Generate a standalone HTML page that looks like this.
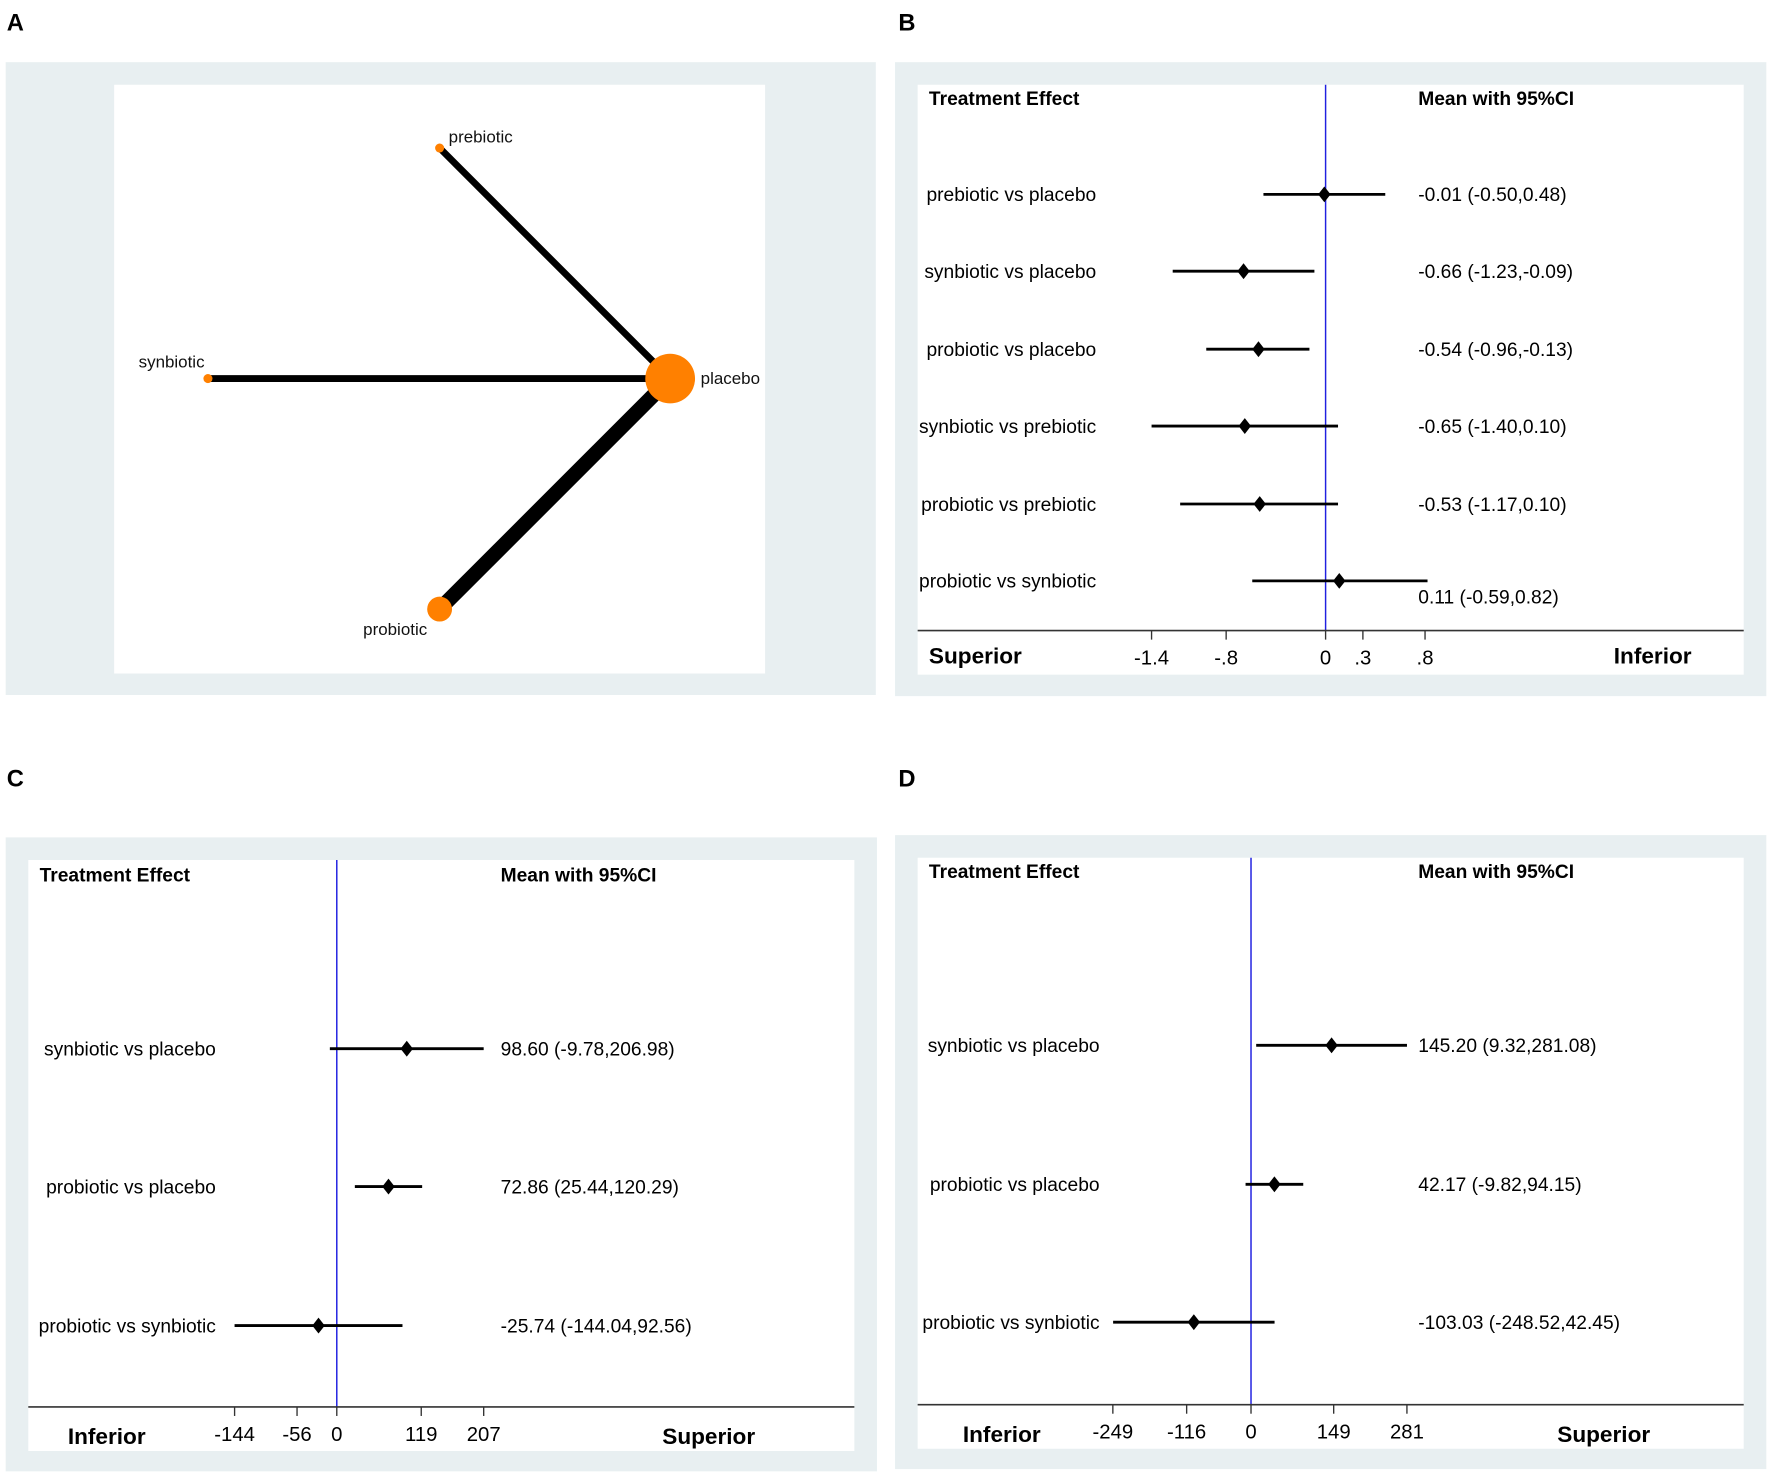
<!DOCTYPE html>
<html><head><meta charset="utf-8"><style>
html,body{margin:0;padding:0;background:#fff;}
svg{display:block;font-family:"Liberation Sans",Arial,sans-serif;}
</style></head><body>
<svg id="fig" width="1772" height="1477" viewBox="0 0 1568 1307" xmlns="http://www.w3.org/2000/svg">
<text x="6" y="27" font-size="21" font-weight="bold">A</text>
<text x="795" y="27" font-size="21" font-weight="bold">B</text>
<text x="6" y="696" font-size="21" font-weight="bold">C</text>
<text x="795" y="696" font-size="21" font-weight="bold">D</text>
<g id="panelA">
<rect x="5" y="55" width="770" height="560" fill="#e8eff1"/>
<rect x="101" y="75" width="576" height="521" fill="#fff"/>
</g>
<g id="panelB"></g><g id="panelC"></g><g id="panelD"></g>
</svg>
<script>
// ---- Panel A network data ----
const nodeNames = ["prebiotic","synbiotic","placebo","probiotic"];
const nodeSize = [4,4,22,11];
const edgeFrom = ["prebiotic","synbiotic","probiotic"];
const edgeTo = ["placebo","placebo","placebo"];
const edgeWidth = [6,6,13];
// ---- Panel B data ----
const bLabels = ["prebiotic vs placebo","synbiotic vs placebo","probiotic vs placebo","synbiotic vs prebiotic","probiotic vs prebiotic","probiotic vs synbiotic"];
const bMean = [-0.01,-0.66,-0.54,-0.65,-0.53,0.11];
const bLow = [-0.50,-1.23,-0.96,-1.40,-1.17,-0.59];
const bHigh = [0.48,-0.09,-0.13,0.10,0.10,0.82];
const bText = ["-0.01 (-0.50,0.48)","-0.66 (-1.23,-0.09)","-0.54 (-0.96,-0.13)","-0.65 (-1.40,0.10)","-0.53 (-1.17,0.10)","0.11 (-0.59,0.82)"];
const bTicks = [-1.4,-0.8,0,0.3,0.8];
const bTickLabels = ["-1.4","-.8","0",".3",".8"];
// ---- Panel C data ----
const cLabels = ["synbiotic vs placebo","probiotic vs placebo","probiotic vs synbiotic"];
const cMean = [98.60,72.86,-25.74];
const cLow = [-9.78,25.44,-144.04];
const cHigh = [206.98,120.29,92.56];
const cText = ["98.60 (-9.78,206.98)","72.86 (25.44,120.29)","-25.74 (-144.04,92.56)"];
const cTicks = [-144,-56,0,119,207];
// ---- Panel D data ----
const dLabels = ["synbiotic vs placebo","probiotic vs placebo","probiotic vs synbiotic"];
const dMean = [145.20,42.17,-103.03];
const dLow = [9.32,-9.82,-248.52];
const dHigh = [281.08,94.15,42.45];
const dText = ["145.20 (9.32,281.08)","42.17 (-9.82,94.15)","-103.03 (-248.52,42.45)"];
const dTicks = [-249,-116,0,149,281];

const NS="http://www.w3.org/2000/svg";
function mk(parent,tag,attrs,text){const e=document.createElementNS(NS,tag);for(const k in attrs)e.setAttribute(k,attrs[k]);if(text!==undefined)e.textContent=text;parent.appendChild(e);return e;}

const A = document.getElementById('panelA');
const cx=389, cy=335, R=204;
const nodeAngle={prebiotic:-90,synbiotic:180,placebo:0,probiotic:90};
function nx(n){return cx+R*Math.cos(nodeAngle[n]*Math.PI/180)*(n==="synbiotic"?1.005:1);}
function ny(n){return cy+R*Math.sin(nodeAngle[n]*Math.PI/180);}
edgeFrom.forEach((f,i)=>{
  const l=mk(A,'line',{x1:nx(f),y1:ny(f),x2:nx(edgeTo[i]),y2:ny(edgeTo[i]),stroke:'#000','stroke-width':edgeWidth[i]});
  
  
});
const labOff={prebiotic:[8,-5,'start'],synbiotic:[-3,-10,'end'],placebo:[27,5,'start'],probiotic:[-11,23,'end']};
nodeNames.forEach((n,i)=>{
  const c=mk(A,'circle',{cx:nx(n),cy:ny(n),r:nodeSize[i],fill:'#ff8000'});
  
  
  const o=labOff[n];
  const t=mk(A,'text',{x:nx(n)+o[0],y:ny(n)+o[1],'font-size':15,'text-anchor':o[2],fill:'#111'},n);
  
  
});

function forest(gid,cfg){
  const g=document.getElementById(gid);
  const bg=mk(g,'rect',{x:cfg.bx,y:cfg.by,width:771,height:561,fill:'#e8eff1'});
  
  
  const pa=mk(g,'rect',{x:cfg.bx+20,y:cfg.by+20,width:731,height:cfg.axisY-cfg.by-20+39,fill:'#fff'});
  
  
  const X=v=>cfg.zero+v*cfg.scale;
  let t=mk(g,'text',{x:cfg.bx+30,y:cfg.headY,'font-size':17,'font-weight':'bold'},'Treatment Effect');
  
  
  t=mk(g,'text',{x:cfg.valX,y:cfg.headY,'font-size':17,'font-weight':'bold'},'Mean with 95%CI');
  
  
  const ref=mk(g,'line',{x1:X(0),y1:cfg.by+20,x2:X(0),y2:cfg.axisY,stroke:'#2020e0','stroke-width':1.3});
  
  
  cfg.labels.forEach((lab,i)=>{
    const y=cfg.rowY[i];
    let e=mk(g,'text',{x:cfg.labX,y:y+6,'font-size':17,'text-anchor':'end'},lab);
    
    
    e=mk(g,'line',{x1:X(cfg.low[i]),y1:y,x2:X(cfg.high[i]),y2:y,stroke:'#000','stroke-width':2.5});
    
    
    const m=X(cfg.mean[i]);
    e=mk(g,'polygon',{points:`${m},${y-7} ${m+5.5},${y} ${m},${y+7} ${m-5.5},${y}`,fill:'#000'});
    
    
    const ty=(cfg.textY&&cfg.textY[i])?cfg.textY[i]:y+6;
    e=mk(g,'text',{x:cfg.valX,y:ty,'font-size':17},cfg.text[i]);
    
    
  });
  const ax=mk(g,'line',{x1:cfg.bx+20,y1:cfg.axisY,x2:cfg.bx+751,y2:cfg.axisY,stroke:'#333','stroke-width':1.5});
  
  
  cfg.ticks.forEach((v,i)=>{
    let e=mk(g,'line',{x1:X(v),y1:cfg.axisY,x2:X(v),y2:cfg.axisY+8,stroke:'#333','stroke-width':1.2});
    
    
    e=mk(g,'text',{x:X(v),y:cfg.axisY+30,'font-size':18,'text-anchor':'middle'},cfg.tickLabels[i]);
    
    
  });
  let e=mk(g,'text',{x:cfg.leftX,y:cfg.axisY+cfg.endDy,'font-size':20,'font-weight':'bold'},cfg.leftWord);
  
  
  e=mk(g,'text',{x:cfg.rightX,y:cfg.axisY+cfg.endDy,'font-size':20,'font-weight':'bold'},cfg.rightWord);
  
  
}
forest('panelB',{bx:792,by:55,axisY:558,zero:1173,scale:110,headY:93,valX:1255,labX:970,
  rowY:[172,240,309,377,446,514],textY:[0,0,0,0,0,534],labels:bLabels,mean:bMean,low:bLow,high:bHigh,text:bText,
  ticks:bTicks,tickLabels:bTickLabels,leftX:822,rightX:1428,endDy:29,leftWord:'Superior',rightWord:'Inferior'});
forest('panelC',{bx:5,by:741,axisY:1245,zero:298,scale:0.628,headY:780,valX:443,labX:191,
  rowY:[928,1050,1173],labels:cLabels,mean:cMean,low:cLow,high:cHigh,text:cText,
  ticks:cTicks,tickLabels:cTicks.map(String),leftX:60,rightX:586,endDy:33,leftWord:'Inferior',rightWord:'Superior'});
forest('panelD',{bx:792,by:739,axisY:1243,zero:1107,scale:0.491,headY:777,valX:1255,labX:973,
  rowY:[925,1048,1170],labels:dLabels,mean:dMean,low:dLow,high:dHigh,text:dText,
  ticks:dTicks,tickLabels:dTicks.map(String),leftX:852,rightX:1378,endDy:33,leftWord:'Inferior',rightWord:'Superior'});
</script>
</body></html>
